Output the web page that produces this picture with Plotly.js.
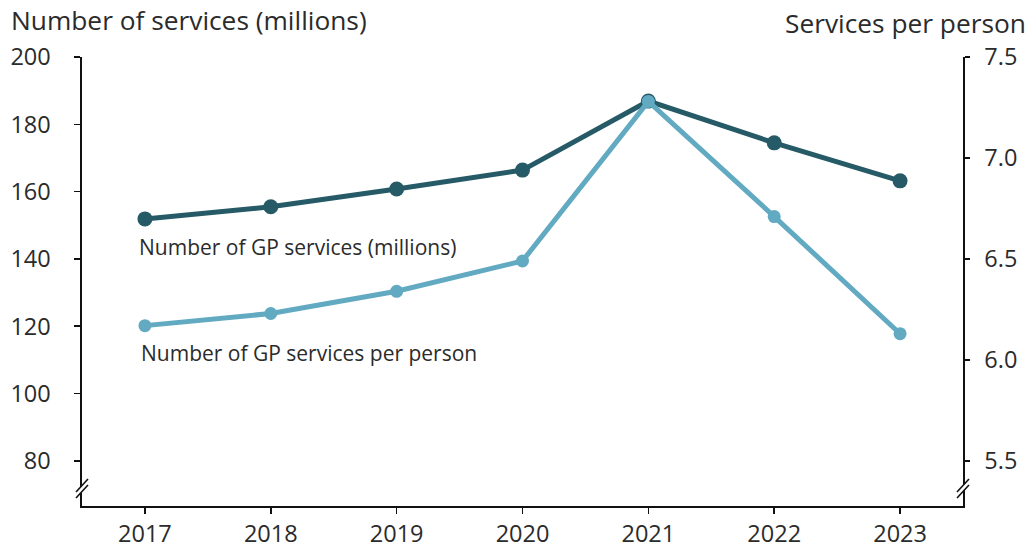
<!DOCTYPE html>
<html>
<head>
<meta charset="utf-8">
<script src="https://cdn.plot.ly/plotly-3.0.1.min.js"></script>
<style>html,body{margin:0;padding:0;background:#fff;}#chart{width:1030px;height:551px;}</style>
</head>
<body>
<div id="chart"></div>
<script>
const years = [2017, 2018, 2019, 2020, 2021, 2022, 2023];
const servicesMillions = [151.9, 155.5, 160.8, 166.4, 186.9, 174.5, 163.2];
const servicesPerPerson = [6.17, 6.23, 6.34, 6.49, 7.28, 6.71, 6.13];
const leftTicks = [80, 100, 120, 140, 160, 180, 200];
const rightTicks = [5.5, 6.0, 6.5, 7.0, 7.5];
const rightTickText = ['5.5', '6.0', '6.5', '7.0', '7.5'];

const darkCol = '#265a67';
const lightCol = '#62aac2';
const textCol = '#2b2b2b';
const fontFam = '"Open Sans", "Noto Sans", sans-serif';

const traces = [
  {
    x: years, y: servicesMillions, yaxis: 'y', type: 'scatter', mode: 'lines+markers',
    line: {color: darkCol, width: 5}, marker: {color: darkCol, size: 15},
    hoverinfo: 'skip', showlegend: false
  },
  {
    x: years, y: servicesPerPerson, yaxis: 'y2', type: 'scatter', mode: 'lines+markers',
    line: {color: lightCol, width: 5}, marker: {color: lightCol, size: 13},
    hoverinfo: 'skip', showlegend: false
  }
];

function breakShapes(xpaper) {
  const base = {xref: 'paper', yref: 'paper', xanchor: xpaper, yanchor: 0,
                xsizemode: 'pixel', ysizemode: 'pixel'};
  return [
    Object.assign({}, base, {type: 'path', path: 'M -6 14 L 6 27 L 6 21 L -6 8 Z',
      fillcolor: '#ffffff', line: {width: 0}}),
    Object.assign({}, base, {type: 'path', path: 'M -6 14 L 6 27', line: {color: '#111', width: 1.6}}),
    Object.assign({}, base, {type: 'path', path: 'M -6 8 L 6 21', line: {color: '#111', width: 1.6}})
  ];
}

const tickFont = {size: 23.5, color: textCol, family: fontFam};

const layout = {
  width: 1030, height: 551,
  margin: {l: 82, r: 67, t: 57, b: 45},
  paper_bgcolor: '#ffffff', plot_bgcolor: '#ffffff',
  font: {family: fontFam, color: textCol, size: 19},
  xaxis: {
    range: [2016.5, 2023.5], tickvals: years, ticktext: years.map(String),
    showgrid: false, zeroline: false, showline: true, linecolor: '#111', linewidth: 1.6,
    ticks: 'outside', ticklen: 6, tickwidth: 1.6, tickcolor: '#111',
    tickfont: tickFont, fixedrange: true
  },
  yaxis: {
    range: [66.6, 200], tickvals: leftTicks, ticktext: leftTicks.map(String),
    showgrid: false, zeroline: false, showline: true, linecolor: '#111', linewidth: 1.6,
    ticks: 'outside', ticklen: 6, tickwidth: 1.6, tickcolor: '#111',
    ticklabelstandoff: 19,
    tickfont: tickFont, fixedrange: true
  },
  yaxis2: {
    range: [5.277, 7.5], tickvals: rightTicks, ticktext: rightTickText,
    overlaying: 'y', side: 'right',
    showgrid: false, zeroline: false, showline: true, linecolor: '#111', linewidth: 1.6,
    ticks: 'outside', ticklen: 5, tickwidth: 1.6, tickcolor: '#111',
    ticklabelstandoff: 10,
    tickfont: tickFont, fixedrange: true
  },
  shapes: [].concat(breakShapes(0), breakShapes(1)),
  annotations: [
    {text: 'Number of services (millions)', xref: 'paper', yref: 'paper',
     x: -82/881, y: 1 + 37/449, xanchor: 'left', yanchor: 'middle', showarrow: false,
     xshift: 9, font: {size: 26.3, color: textCol, family: fontFam}},
    {text: 'Services per person', xref: 'paper', yref: 'paper',
     x: 1 + 67/881, y: 1 + 34/449, xanchor: 'right', yanchor: 'middle', showarrow: false,
     xshift: -2, font: {size: 26.3, color: textCol, family: fontFam}},
    {text: 'Number of GP services (millions)', xref: 'x', yref: 'y',
     x: 2016.935, y: 143.6, xanchor: 'left', yanchor: 'middle', showarrow: false,
     font: {size: 21, color: textCol, family: fontFam}},
    {text: 'Number of GP services per person', xref: 'x', yref: 'y',
     x: 2016.952, y: 112.1, xanchor: 'left', yanchor: 'middle', showarrow: false,
     font: {size: 21, color: textCol, family: fontFam}}
  ]
};

Plotly.newPlot('chart', traces, layout, {displayModeBar: false, staticPlot: true});
</script>
</body>
</html>
